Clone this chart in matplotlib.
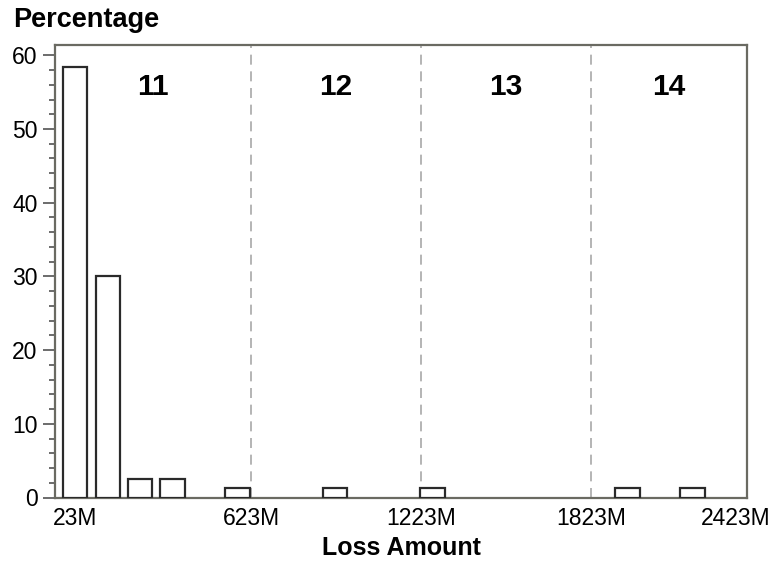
import numpy as np
import matplotlib
matplotlib.use('Agg')
import matplotlib.pyplot as plt
import matplotlib.transforms as mtransforms
from matplotlib.ticker import MultipleLocator

plt.rcParams['font.family'] = ['Liberation Sans', 'DejaVu Sans']

# histogram bins (midpoints in millions) and share of losses in each bin
bin_mid = [2, 117, 231, 346, 575, 919, 1264, 1952, 2181]
pct = [58.4, 30.0, 2.5, 2.5, 1.3, 1.3, 1.3, 1.3, 1.3]
bin_w = 86

tick_vals = [23, 623, 1223, 1823, 2423]
tick_labels = ['23M', '623M', '1223M', '1823M', '2423M']

# group boundaries and labels
bounds = [623, 1223, 1823]
groups = ['11', '12', '13', '14']
x_lo, x_hi = -69, 2374

fig = plt.figure(figsize=(7.71, 5.62), dpi=100)
ax = fig.add_axes([55 / 771, 64.5 / 562, 692 / 771, 452.5 / 562])

ax.bar(bin_mid, pct, width=bin_w, facecolor='white', edgecolor='#2a2a2a',
       linewidth=1.6, zorder=3)

for b in bounds:
    ax.axvline(b, color='#a8a8a8', linewidth=1.2, dashes=(6, 4), zorder=1)

edges = [x_lo] + bounds + [x_hi]
for g, a, b in zip(groups, edges[:-1], edges[1:]):
    ax.text((a + b) / 2, 0.907, g, transform=ax.get_xaxis_transform(),
            ha='center', va='center', fontsize=21.5, fontweight='bold')

ax.set_xlim(x_lo, x_hi)
ax.set_ylim(0, 61.4)

ax.set_xticks(tick_vals[:-1])
ax.set_xticklabels(tick_labels[:-1])
ax.tick_params(axis='x', length=0, pad=7, labelsize=16.5)
# nudge the first label a little left
lab0 = ax.get_xticklabels()[0]
lab0.set_transform(lab0.get_transform() +
                   mtransforms.ScaledTranslation(-6 / 100, 0, fig.dpi_scale_trans))
# last label sits past the right edge of the axis
ax.annotate(tick_labels[-1], xy=(tick_vals[-1], 0),
            xycoords=('data', 'axes fraction'), xytext=(7, -7),
            textcoords='offset points', ha='right', va='top',
            fontsize=16.5, annotation_clip=False)

ax.yaxis.set_major_locator(MultipleLocator(10))
ax.yaxis.set_minor_locator(MultipleLocator(2))
ax.tick_params(axis='y', which='major', length=8.5, width=1.3,
               color='#606060', pad=4, labelsize=16.5)
ax.tick_params(axis='y', which='minor', length=4.3, width=1.3,
               color='#606060')

for s in ax.spines.values():
    s.set_color('#6a6a62')
    s.set_linewidth(1.6)

ax.set_xlabel('Loss Amount', fontsize=18, fontweight='bold', labelpad=4)
fig.text(13 / 771, 1 - 27 / 562, 'Percentage', ha='left', va='baseline',
         fontsize=19.5, fontweight='bold')

fig.savefig('out.png', dpi=100)
